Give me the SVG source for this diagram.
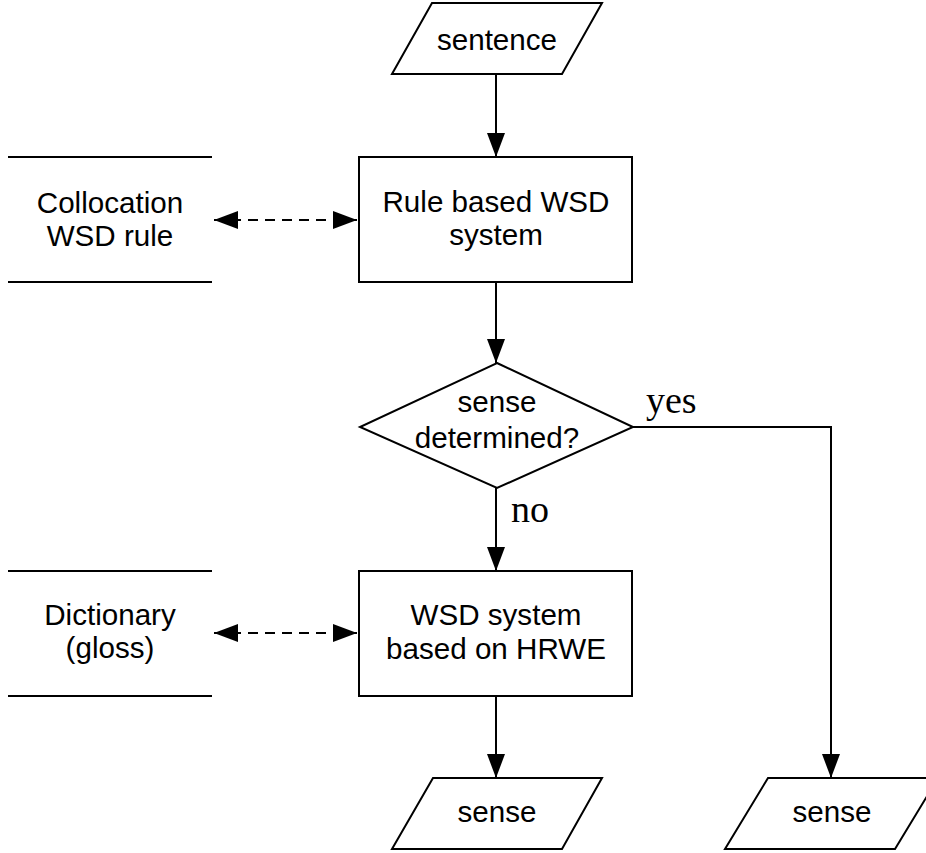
<svg xmlns="http://www.w3.org/2000/svg" width="926" height="853" viewBox="0 0 926 853">
  <style>
    .shape { fill: #fff; stroke: #000; stroke-width: 2; }
    .store { stroke: #000; stroke-width: 2.2; fill: none; }
    .flow { stroke: #000; stroke-width: 2; fill: none; }
    .dash { stroke-dasharray: 10 7; }
    .lbl { font-family: "Liberation Sans", Arial, Helvetica, sans-serif; font-size: 29.6px; text-anchor: middle; fill: #000; }
    .cond { font-family: "Liberation Serif", "Times New Roman", serif; font-size: 38px; fill: #000; }
  </style>
  <defs>
    <marker id="head" viewBox="0 0 24 18" refX="24" refY="9" markerWidth="24" markerHeight="18" markerUnits="userSpaceOnUse" orient="auto-start-reverse">
      <path d="M0,0 L24,9 L0,18 Z" fill="#000"/>
    </marker>
  </defs>
  <rect width="926" height="853" fill="#fff"/>

  <!-- connectors -->
  <g id="connectors">
    <line class="flow" x1="496" y1="74" x2="496" y2="157" marker-end="url(#head)"/>
    <line class="flow" x1="496" y1="282" x2="496" y2="363" marker-end="url(#head)"/>
    <line class="flow" x1="496" y1="488" x2="496" y2="571" marker-end="url(#head)"/>
    <line class="flow" x1="496" y1="696" x2="496" y2="778" marker-end="url(#head)"/>
    <polyline class="flow" points="633,427 831,427 831,778" marker-end="url(#head)"/>
    <line class="flow dash" x1="214" y1="220" x2="357" y2="220" marker-start="url(#head)" marker-end="url(#head)"/>
    <line class="flow dash" x1="214" y1="633" x2="357" y2="633" marker-start="url(#head)" marker-end="url(#head)"/>
    <text class="cond" x="646" y="413">yes</text>
    <text class="cond" x="511" y="522">no</text>
  </g>

  <g id="sentence">
    <polygon class="shape" points="432,3 602,3 562,74 392,74"/>
    <text class="lbl" x="497" y="50">sentence</text>
  </g>

  <g id="rule-system">
    <rect class="shape" x="359" y="157" width="273" height="125"/>
    <text class="lbl" x="496" y="212">Rule based WSD</text>
    <text class="lbl" x="496" y="245">system</text>
  </g>

  <g id="collocation-rule">
    <line class="store" x1="8" y1="157" x2="212" y2="157"/>
    <line class="store" x1="8" y1="282" x2="212" y2="282"/>
    <text class="lbl" x="110" y="213">Collocation</text>
    <text class="lbl" x="110" y="246">WSD rule</text>
  </g>

  <g id="decision">
    <polygon class="shape" points="497,363 633,427 497,488 360,427"/>
    <text class="lbl" x="497" y="412">sense</text>
    <text class="lbl" x="497" y="448">determined?</text>
  </g>

  <g id="hrwe-system">
    <rect class="shape" x="359" y="571" width="273" height="125"/>
    <text class="lbl" x="496" y="625">WSD system</text>
    <text class="lbl" x="496" y="659">based on HRWE</text>
  </g>

  <g id="dictionary">
    <line class="store" x1="8" y1="571" x2="212" y2="571"/>
    <line class="store" x1="8" y1="696" x2="212" y2="696"/>
    <text class="lbl" x="110" y="625">Dictionary</text>
    <text class="lbl" x="110" y="658">(gloss)</text>
  </g>

  <g id="sense-left">
    <polygon class="shape" points="433,778 602,778 562,849 392,849"/>
    <text class="lbl" x="497" y="822">sense</text>
  </g>

  <g id="sense-right">
    <polygon class="shape" points="768,778 938,778 895,849 725,849"/>
    <text class="lbl" x="832" y="822">sense</text>
  </g>
</svg>
